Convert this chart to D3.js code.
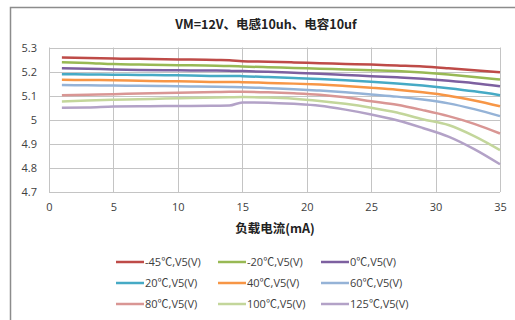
<!DOCTYPE html>
<html>
<head>
<meta charset="utf-8">
<script src="https://cdn.jsdelivr.net/npm/d3@7"></script>
<style>
  html, body { margin: 0; padding: 0; background: #fff; }
  svg { display: block; }
</style>
</head>
<body>
<svg id="chart" width="515" height="320"></svg>
<script>
// Load current (mA)
const current = [1, 3, 5, 7, 9, 11, 13, 14, 15, 17, 19, 21, 23, 25, 27, 29, 31, 33, 35];

// Output voltage V5 (V) at each temperature
const vM45  = [5.258, 5.256, 5.254, 5.253, 5.251, 5.250, 5.248, 5.247, 5.243, 5.241, 5.238, 5.235, 5.232, 5.229, 5.225, 5.221, 5.214, 5.206, 5.197];
const vM20  = [5.239, 5.236, 5.231, 5.229, 5.227, 5.226, 5.224, 5.223, 5.221, 5.218, 5.215, 5.212, 5.209, 5.206, 5.202, 5.196, 5.188, 5.178, 5.167];
const v0    = [5.214, 5.212, 5.209, 5.207, 5.206, 5.205, 5.204, 5.203, 5.202, 5.199, 5.195, 5.191, 5.186, 5.181, 5.176, 5.170, 5.162, 5.152, 5.139];
const v20   = [5.189, 5.188, 5.187, 5.186, 5.185, 5.184, 5.182, 5.182, 5.181, 5.177, 5.173, 5.169, 5.164, 5.158, 5.151, 5.142, 5.131, 5.118, 5.102];
const v40   = [5.166, 5.165, 5.164, 5.162, 5.160, 5.159, 5.157, 5.157, 5.156, 5.153, 5.150, 5.146, 5.140, 5.133, 5.125, 5.114, 5.100, 5.080, 5.056];
const v60   = [5.144, 5.143, 5.142, 5.141, 5.140, 5.138, 5.137, 5.136, 5.135, 5.131, 5.127, 5.121, 5.114, 5.105, 5.096, 5.084, 5.068, 5.044, 5.015];
const v80   = [5.102, 5.104, 5.106, 5.109, 5.111, 5.113, 5.115, 5.116, 5.116, 5.114, 5.110, 5.104, 5.093, 5.077, 5.062, 5.040, 5.015, 4.983, 4.943];
const v100  = [5.076, 5.080, 5.083, 5.085, 5.088, 5.090, 5.092, 5.093, 5.094, 5.092, 5.087, 5.078, 5.066, 5.050, 5.030, 5.002, 4.978, 4.932, 4.874];
const v125  = [5.050, 5.051, 5.055, 5.056, 5.057, 5.057, 5.058, 5.059, 5.072, 5.071, 5.066, 5.058, 5.042, 5.022, 4.998, 4.966, 4.930, 4.878, 4.815];

const seriesNames = ["-45℃,V5(V)", "-20℃,V5(V)", "0℃,V5(V)", "20℃,V5(V)", "40℃,V5(V)", "60℃,V5(V)", "80℃,V5(V)", "100℃,V5(V)", "125℃,V5(V)"];
const seriesValues = [vM45, vM20, v0, v20, v40, v60, v80, v100, v125];
const seriesColors = ["#be4b48", "#98b954", "#7d60a0", "#46aac5", "#f79646", "#95b3d7", "#d99694", "#c3d69b", "#b3a2c7"];

const xTicks = [0, 5, 10, 15, 20, 25, 30, 35];
const yTicks = [4.7, 4.8, 4.9, 5.0, 5.1, 5.2, 5.3];

const titleText = "VM=12V、电感10uh、电容10uf";
const xTitle = "负载电流(mA)";

const svg = d3.select("#chart");
const cjkFont = "'Noto Sans CJK SC', 'DejaVu Sans', sans-serif";
const latinFont = "'Open Sans', 'DejaVu Sans', sans-serif";

// outer chart frame (left and top edges)
svg.append("path")
  .attr("d", "M10.5,320 V7.5 H515")
  .attr("fill", "none")
  .attr("stroke", "#8c8c8c")
  .attr("stroke-width", 1.5);

const plot = { left: 49, right: 500, top: 47.5, bottom: 192 };

const x = d3.scaleLinear().domain([0, 35]).range([plot.left, plot.right]);
const y = d3.scaleLinear().domain([4.7, 5.3]).range([plot.bottom, plot.top]);

// grid
const grid = svg.append("g");
grid.selectAll("line.h").data(yTicks).join("line")
  .attr("x1", plot.left).attr("x2", plot.right)
  .attr("y1", d => Math.round(y(d)) + 0.5).attr("y2", d => Math.round(y(d)) + 0.5)
  .attr("stroke", "#c4c4c4").attr("stroke-width", 1);
grid.selectAll("line.v").data(xTicks).join("line")
  .attr("y1", plot.top).attr("y2", plot.bottom)
  .attr("x1", d => Math.round(x(d)) + 0.5).attr("x2", d => Math.round(x(d)) + 0.5)
  .attr("stroke", "#c4c4c4").attr("stroke-width", 1);

// axes (labels only, the grid carries the lines)
const yAxis = svg.append("g")
  .attr("transform", `translate(${plot.left},0)`)
  .call(d3.axisLeft(y).tickValues(yTicks).tickSize(0).tickPadding(12)
    .tickFormat(d => d3.format("")(+d.toFixed(1))));
const xAxis = svg.append("g")
  .attr("transform", `translate(0,${plot.bottom})`)
  .call(d3.axisBottom(x).tickValues(xTicks).tickSize(0).tickPadding(11));
[xAxis, yAxis].forEach(a => {
  a.select(".domain").remove();
  a.selectAll("text")
    .attr("fill", "#404040")
    .style("font-family", latinFont)
    .style("font-size", "11px");
});

// series lines
const line = d3.line()
  .x((d, i) => x(current[i]))
  .y(d => y(d))
  .curve(d3.curveMonotoneX);

svg.append("g").selectAll("path").data(seriesValues).join("path")
  .attr("d", line)
  .attr("fill", "none")
  .attr("stroke", (d, i) => seriesColors[i])
  .attr("stroke-width", 2.5)
  .attr("stroke-linejoin", "round");

// title
svg.append("text")
  .attr("x", 266).attr("y", 29)
  .attr("text-anchor", "middle")
  .attr("fill", "#222")
  .style("font-family", cjkFont)
  .style("font-weight", "bold")
  .style("font-size", "12.5px")
  .text(titleText);

// x axis title
svg.append("text")
  .attr("x", 275).attr("y", 233)
  .attr("text-anchor", "middle")
  .attr("fill", "#222")
  .style("font-family", cjkFont)
  .style("font-weight", "bold")
  .style("font-size", "12.5px")
  .text(xTitle);

// legend: 3 columns x 3 rows
const legendCols = [116, 218, 321];
const legendRows = [262, 283, 304];
const legend = svg.append("g").selectAll("g").data(seriesNames).join("g")
  .attr("transform", (d, i) => `translate(${legendCols[i % 3]},${legendRows[Math.floor(i / 3)]})`);
legend.append("line")
  .attr("x1", 0).attr("x2", 28).attr("y1", 0).attr("y2", 0)
  .attr("stroke", (d, i) => seriesColors[i])
  .attr("stroke-width", 2.5);
const legendText = legend.append("text")
  .attr("x", 29).attr("y", 0).attr("dy", "0.35em")
  .attr("fill", "#404040")
  .style("font-family", latinFont)
  .style("font-size", "11px");
// the degree-Celsius sign is drawn with the CJK face
legendText.each(function (d) {
  const parts = d.split("℃");
  const t = d3.select(this);
  t.append("tspan").text(parts[0]);
  t.append("tspan").style("font-family", cjkFont).text("℃");
  t.append("tspan").text(parts[1]);
});
</script>
</body>
</html>
